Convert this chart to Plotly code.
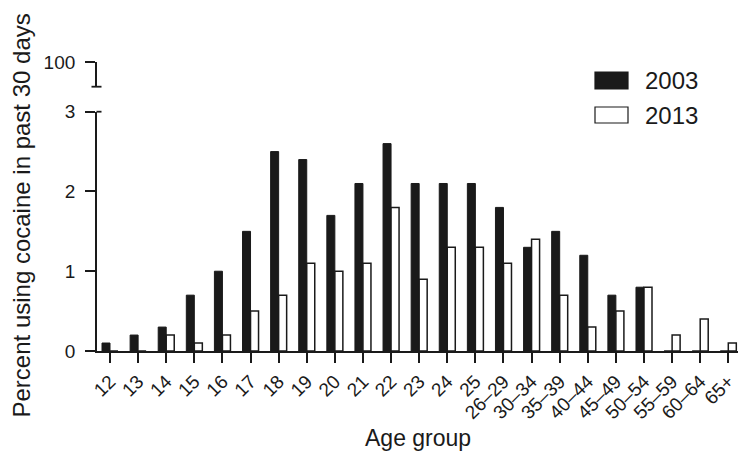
import plotly.graph_objects as go

# ---- data ----
age_groups = ["12", "13", "14", "15", "16", "17", "18", "19", "20", "21", "22", "23",
              "24", "25", "26–29", "30–34", "35–39", "40–44", "45–49", "50–54",
              "55–59", "60–64", "65+"]
pct_2003 = [0.1, 0.2, 0.3, 0.7, 1.0, 1.5, 2.5, 2.4, 1.7, 2.1, 2.6, 2.1,
            2.1, 2.1, 1.8, 1.3, 1.5, 1.2, 0.7, 0.8, 0.0, 0.0, 0.0]
pct_2013 = [0.0, 0.0, 0.2, 0.1, 0.2, 0.5, 0.7, 1.1, 1.0, 1.1, 1.8, 0.9,
            1.3, 1.3, 1.1, 1.4, 0.7, 0.3, 0.5, 0.8, 0.2, 0.4, 0.1]
series_names = ["2003", "2013"]
y_ticks = [0, 1, 2, 3]
y_break_tick = [100]

# ---- layout geometry (pixels); page body has an 8px margin ----
OFF = 8
W, H = 750 - OFF, 462 - OFF
L, R, T, B = 97 - OFF, 12, 62 - OFF, 111
PW, PH = W - L - R, H - T - B

def px(x):  # window pixel -> paper x
    return (x - OFF - L) / PW

def py(y):  # window pixel -> paper y
    return (H - B - (y - OFF)) / PH

INK = "#1a1a1a"
FONT = "Liberation Sans, Arial, sans-serif"

fig = go.Figure()
fig.add_trace(go.Bar(x=age_groups, y=pct_2003, name=series_names[0],
                     marker=dict(color=INK, line=dict(color=INK, width=1))))
fig.add_trace(go.Bar(x=age_groups, y=pct_2013, name=series_names[1],
                     marker=dict(color="white", line=dict(color=INK, width=1.5))))
# empty trace so the upper (broken) axis segment is drawn
fig.add_trace(go.Scatter(x=[], y=[], yaxis="y2", hoverinfo="skip", showlegend=False))

low_top = py(111.7)
up_bottom = py(86.7)

common = dict(showline=True, linecolor=INK, linewidth=1.8,
              ticks="outside", ticklen=10, tickwidth=1.8, tickcolor=INK,
              tickfont=dict(size=19), showgrid=False, zeroline=False,
              automargin=False)

fig.update_layout(
    width=W, height=H,
    margin=dict(l=L, r=R, t=T, b=B, pad=0),
    paper_bgcolor="white", plot_bgcolor="white",
    barmode="group", bargap=0.43, bargroupgap=0,
    showlegend=False,
    font=dict(family=FONT, color=INK, size=19),
    xaxis=dict(type="category", range=[-0.463, 22.345], tickangle=-45, **common),
    yaxis=dict(domain=[0, low_top], range=[0, 3], tickvals=y_ticks,
               ticklabelstandoff=6, **common),
    yaxis2=dict(domain=[up_bottom, 1], range=[98, 100], tickvals=y_break_tick,
                anchor="x", ticklabelstandoff=6, **common),
)

shapes = [
    # break caps
    dict(type="line", xref="paper", yref="paper", x0=px(96.5), x1=px(101.5),
         y0=low_top, y1=low_top, line=dict(color=INK, width=1.8)),
    dict(type="line", xref="paper", yref="paper", x0=px(91.5), x1=px(101.5),
         y0=up_bottom, y1=up_bottom, line=dict(color=INK, width=1.8)),
    # legend boxes
    dict(type="rect", xref="paper", yref="paper", x0=px(595), x1=px(628),
         y0=py(89), y1=py(72), fillcolor=INK, line=dict(color=INK, width=1.2)),
    dict(type="rect", xref="paper", yref="paper", x0=px(595), x1=px(628),
         y0=py(123), y1=py(107), fillcolor="white", line=dict(color=INK, width=1.2)),
]
annotations = [
    dict(text=series_names[0], xref="paper", yref="paper", x=px(643), y=py(80.5),
         xanchor="left", yanchor="middle", showarrow=False, font=dict(size=24)),
    dict(text=series_names[1], xref="paper", yref="paper", x=px(643), y=py(115.5),
         xanchor="left", yanchor="middle", showarrow=False, font=dict(size=24)),
    dict(text="Percent using cocaine in past 30 days", xref="paper", yref="paper",
         x=px(21.5), y=py(216), textangle=-90, xanchor="center", yanchor="middle",
         showarrow=False, font=dict(size=24)),
    dict(text="Age group", xref="paper", yref="paper", x=px(417.5), y=py(438),
         xanchor="center", yanchor="middle", showarrow=False, font=dict(size=23)),
]
fig.update_layout(shapes=shapes, annotations=annotations)

fig.write_html("out.html")
